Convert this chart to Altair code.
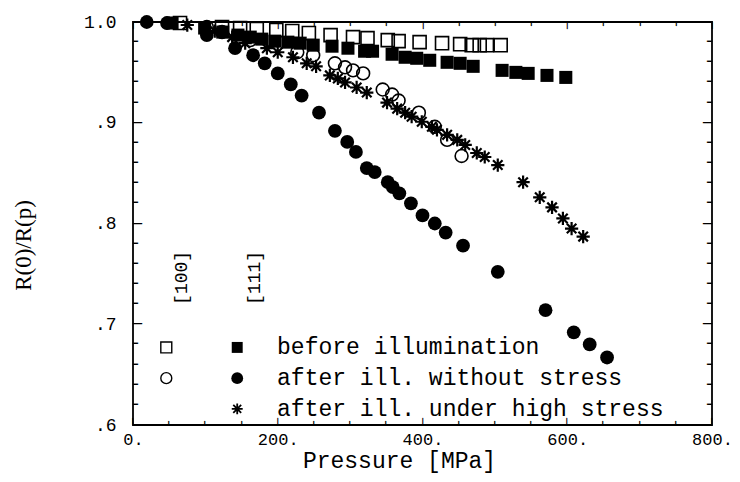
import altair as alt
import pandas as pd

# ---- data: pressure [MPa] vs R(0)/R(p) ----
# [100] before illumination (open squares)
sq_open_p = [65, 123, 148, 171, 198, 220, 243, 273, 304, 324, 352, 367, 396, 427, 452, 468, 479, 489, 508]
sq_open_r = [0.999, 0.995, 0.994, 0.993, 0.992, 0.991, 0.989, 0.987, 0.985, 0.984, 0.982, 0.981,
             0.980, 0.979, 0.978, 0.977, 0.977, 0.977, 0.977]

# [111] before illumination (filled squares)
sq_fill_p = [54, 99, 124, 145, 162, 178, 196, 214, 231, 249, 275, 297, 320, 331, 358, 376, 392, 410,
             434, 452, 470, 510, 529, 546, 572, 598]
sq_fill_r = [0.999, 0.994, 0.990, 0.987, 0.985, 0.983, 0.981, 0.980, 0.979, 0.977, 0.976, 0.974,
             0.971, 0.971, 0.968, 0.965, 0.964, 0.962, 0.960, 0.959, 0.956, 0.952, 0.950, 0.949,
             0.947, 0.945]

# [100] after illumination without stress (open circles)
ci_open_p = [102, 123, 162, 227, 249, 279, 293, 304, 318, 345, 358, 367, 395, 417, 434, 454]
ci_open_r = [0.995, 0.990, 0.982, 0.970, 0.967, 0.959, 0.955, 0.952, 0.949, 0.933, 0.928, 0.922,
             0.910, 0.896, 0.883, 0.867]

# [111] after illumination without stress (filled circles)
ci_fill_p = [19, 47, 102, 141, 166, 182, 200, 218, 233, 257, 279, 296, 308, 323, 334, 352, 359, 368,
             384, 400, 417, 432, 456, 504, 570, 609, 631, 655]
ci_fill_r = [1.000, 0.999, 0.987, 0.974, 0.967, 0.959, 0.949, 0.938, 0.927, 0.910, 0.892, 0.881,
             0.871, 0.855, 0.851, 0.841, 0.836, 0.830, 0.820, 0.808, 0.800, 0.791, 0.778, 0.752,
             0.714, 0.692, 0.680, 0.667]

# [111] after illumination under high stress (stars)
st_p = [75, 113, 137, 155, 185, 200, 221, 240, 253, 272, 283, 293, 309, 323, 351, 365, 376, 385,
        399, 413, 420, 434, 448, 459, 475, 486, 504, 539, 562, 579, 594, 606, 622]
st_r = [0.997, 0.991, 0.985, 0.979, 0.974, 0.970, 0.965, 0.959, 0.956, 0.947, 0.944, 0.940, 0.935,
        0.930, 0.920, 0.914, 0.910, 0.906, 0.901, 0.896, 0.893, 0.888, 0.883, 0.878, 0.870, 0.866,
        0.858, 0.841, 0.826, 0.816, 0.805, 0.795, 0.787]

legend_labels = ["before illumination", "after ill. without stress", "after ill. under high stress"]
orient_labels = ["[100]", "[111]"]
x_tick_labels = [0, 200, 400, 600, 800]
y_tick_labels = [0.6, 0.7, 0.8, 0.9, 1.0]
x_minor_ticks = list(range(0, 801, 50))
y_minor_ticks = [round(0.6 + 0.02 * i, 2) for i in range(21)]

# ---- layout ----
W, H = 579, 403
MONO = "Liberation Mono"
SERIF = "Liberation Serif"
TICKFONT = "DejaVu Sans Mono"
STAR = "M-1,0L1,0M0,-1L0,1M-0.72,-0.72L0.72,0.72M-0.72,0.72L0.72,-0.72"

xs = alt.Scale(domain=[0, 800], nice=False, zero=False)
ys = alt.Scale(domain=[0.6, 1.0], nice=False, zero=False)

# ---- axes with labels and titles ----
x_main = alt.Axis(orient="bottom", values=x_tick_labels, ticks=False, domain=False, grid=False,
                  labelExpr="datum.value + '.'", labelFont=MONO, labelFontSize=17, labelColor="black",
                  labelPadding=6, labelFlush=False, title="Pressure [MPa]", titleFont=MONO,
                  titleFontSize=23, titleFontWeight="normal", titleColor="black",
                  titleX=266, titleY=35, titleAlign="center", titleBaseline="middle")
y_main = alt.Axis(orient="left", values=y_tick_labels, ticks=False, domain=False, grid=False,
                  labelExpr="datum.value >= 0.999 ? '1.0' : slice(format(datum.value, '.1f'), 1)",
                  labelFont=MONO, labelFontSize=18, labelColor="black", labelPadding=17,
                  labelFlush=False, title="R(0)/R(p)", titleFont=SERIF, titleFontSize=23,
                  titleFontWeight="normal", titleColor="black", titleX=-110, titleY=223,
                  titleAlign="center", titleBaseline="middle", titleAngle=270)


def df(p, r):
    return pd.DataFrame({"p": p, "r": r})


def enc(ch, xa=None, ya=None):
    return ch.encode(x=alt.X("p:Q", scale=xs, axis=xa), y=alt.Y("r:Q", scale=ys, axis=ya))


layers = []
layers.append(enc(alt.Chart(df(sq_open_p, sq_open_r)).mark_point(
    shape="square", filled=False, size=170, strokeWidth=1.6, color="black", opacity=1),
    x_main, y_main))
layers.append(enc(alt.Chart(df(sq_fill_p, sq_fill_r)).mark_point(
    shape="square", filled=True, size=170, color="black", opacity=1)))
layers.append(enc(alt.Chart(df(ci_open_p, ci_open_r)).mark_point(
    shape="circle", filled=False, size=165, strokeWidth=1.6, color="black", opacity=1)))
layers.append(enc(alt.Chart(df(ci_fill_p, ci_fill_r)).mark_point(
    shape="circle", filled=True, size=190, color="black", opacity=1)))
layers.append(enc(alt.Chart(df(st_p, st_r)).mark_point(
    shape=STAR, filled=False, size=175, strokeWidth=2.2, color="black", opacity=1)))

# ---- legend (placed in data coordinates) ----
leg_rows = [0.677, 0.6465, 0.616]
leg_x_open, leg_x_fill, leg_x_text = 46, 144, 199
leg_text = pd.DataFrame({"p": [leg_x_text] * 3, "r": leg_rows, "t": legend_labels})
layers.append(enc(alt.Chart(leg_text).mark_text(
    font=MONO, fontSize=23, align="left", baseline="middle", color="black")).encode(text="t:N"))
layers.append(enc(alt.Chart(df([leg_x_open], [leg_rows[0]])).mark_point(
    shape="square", filled=False, size=120, strokeWidth=1.4, color="black", opacity=1)))
layers.append(enc(alt.Chart(df([leg_x_fill], [leg_rows[0]])).mark_point(
    shape="square", filled=True, size=120, color="black", opacity=1)))
layers.append(enc(alt.Chart(df([leg_x_open], [leg_rows[1]])).mark_point(
    shape="circle", filled=False, size=120, strokeWidth=1.4, color="black", opacity=1)))
layers.append(enc(alt.Chart(df([leg_x_fill], [leg_rows[1]])).mark_point(
    shape="circle", filled=True, size=140, color="black", opacity=1)))
layers.append(enc(alt.Chart(df([leg_x_fill], [leg_rows[2]])).mark_point(
    shape=STAR, filled=False, size=120, strokeWidth=1.8, color="black", opacity=1)))
orient_df = pd.DataFrame({"p": [68, 168], "r": [0.746, 0.746], "t": orient_labels})
layers.append(enc(alt.Chart(orient_df).mark_text(
    font=MONO, fontSize=18, angle=270, align="center", baseline="middle", color="black")).encode(text="t:N"))

# ---- inward frame ticks drawn as line glyphs at the tick values ----
# a line glyph is 0.6 em long, so font size = length / 0.6
def glyph(length):
    return "\u2501" if length < 7 else "\u2500"


def fsize(length):
    return round(length / 0.6, 1)


x_len = [7 if v in x_tick_labels else 4 for v in x_minor_ticks]
y_len = [9 if any(abs(v - t) < 1e-9 for t in y_tick_labels) else 5 for v in y_minor_ticks]
xb = pd.DataFrame({"p": x_minor_ticks, "r": [0.6] * len(x_minor_ticks),
                   "fs": [fsize(l) for l in x_len], "c": [glyph(l) for l in x_len]})
xt = xb.assign(r=[1.0] * len(x_minor_ticks))
yl = pd.DataFrame({"p": [0] * len(y_minor_ticks), "r": y_minor_ticks,
                   "fs": [fsize(l) for l in y_len], "c": [glyph(l) for l in y_len]})
yr = yl.assign(p=[800] * len(y_minor_ticks))
for data, ang, al in [(xb, 270, "left"), (xt, 90, "left"), (yl, 0, "left"), (yr, 0, "right")]:
    layers.append(enc(alt.Chart(data).mark_text(
        font=TICKFONT, angle=ang, align=al, baseline="middle", color="black")).encode(
        text="c:N", size=alt.Size("fs:Q", scale=None, legend=None)))

chart = alt.layer(*layers).resolve_axis(x="independent", y="independent").properties(
    width=W, height=H,
    autosize=alt.AutoSizeParams(type="none"),
    padding={"left": 125, "top": 14, "right": 20, "bottom": 49},
    background="white",
).configure_view(stroke="black", strokeWidth=1.8)

chart.save("out.html", embed_options={"renderer": "svg", "actions": False})
